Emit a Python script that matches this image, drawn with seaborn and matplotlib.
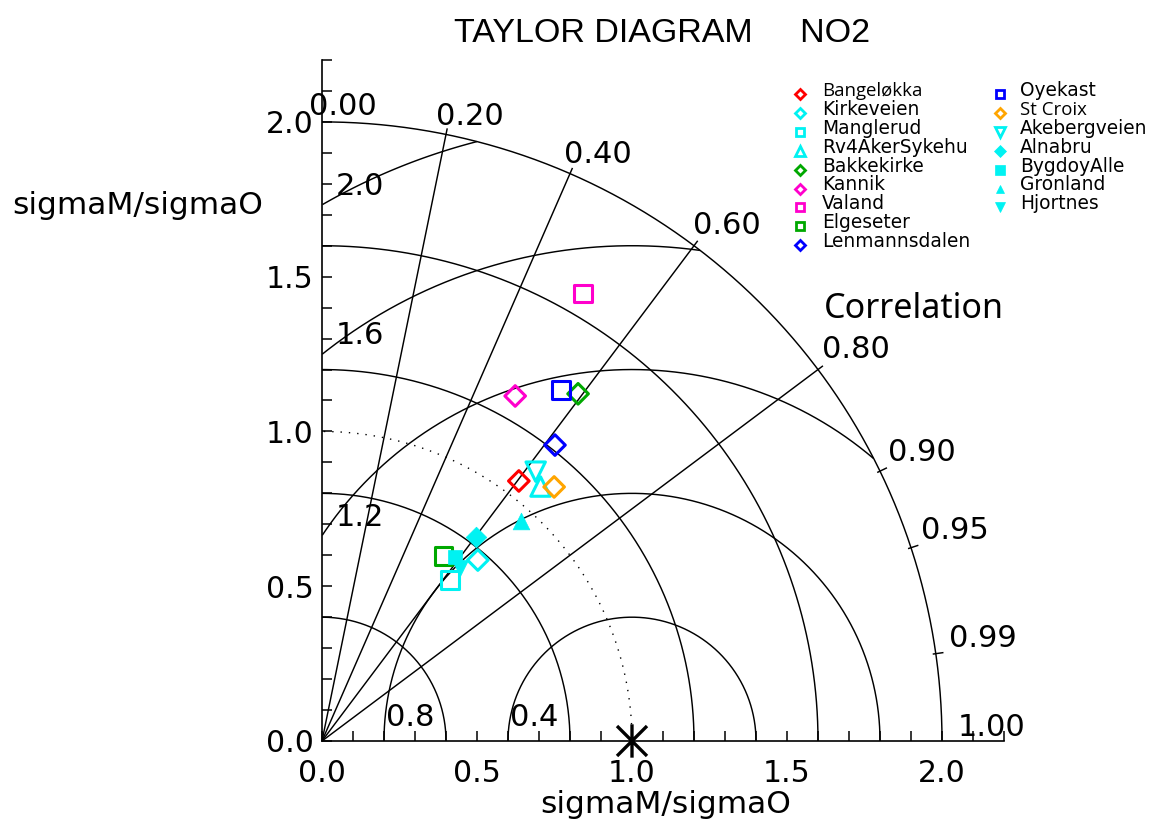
import numpy as np
import pandas as pd
import matplotlib
matplotlib.use("Agg")
import matplotlib.pyplot as plt
import matplotlib.transforms as mtransforms
from matplotlib.lines import Line2D
from matplotlib.path import Path
import seaborn as sns

# ---- station statistics: normalised std (sigmaM/sigmaO) and correlation ----
stations = ["Bangeløkka", "Kirkeveien", "Manglerud", "Rv4AkerSykehu", "Bakkekirke",
            "Kannik", "Valand", "Elgeseter", "Lenmannsdalen",
            "Oyekast", "St Croix", "Akebergveien", "Alnabru", "BygdoyAlle",
            "Gronland", "Hjortnes"]
std_ratio = [1.053, 0.771, 0.664, 1.083, 1.393,
             1.277, 1.673, 0.714, 1.216,
             1.371, 1.111, 1.110, 0.825, 0.733,
             0.957, 0.714]
correlation = [0.603, 0.652, 0.622, 0.651, 0.593,
               0.488, 0.503, 0.548, 0.618,
               0.562, 0.674, 0.621, 0.602, 0.585,
               0.670, 0.623]

# ---- symbol styling per station ----
CYAN, RED, GREEN, MAGENTA, BLUE, ORANGE = "#00F2F2", "#FF0000", "#00A800", "#FF00CC", "#0000FF", "#FFA500"
station_colors = [RED, CYAN, CYAN, CYAN, GREEN,
                  MAGENTA, MAGENTA, GREEN, BLUE,
                  BLUE, ORANGE, CYAN, CYAN, CYAN,
                  CYAN, CYAN]
station_markers = ["D", "D", "s", "^", "D",
                   "D", "s", "s", "D",
                   "s", "D", "v", "D", "s",
                   "^", "v"]
station_filled = [False, False, False, False, False,
                  False, False, False, False,
                  False, False, False, True, True,
                  True, True]

# marker size (points) by (marker, filled)
plot_ms = {("D", False): 10.5, ("s", False): 12.5, ("^", False): 14.0, ("v", False): 14.0,
           ("D", True): 10.5, ("s", True): 10.5, ("^", True): 12.0, ("v", True): 11.5}
legend_ms = {("D", False): 5.5, ("s", False): 6.0, ("^", False): 7.5, ("v", False): 7.5,
             ("D", True): 6.0, ("s", True): 7.0, ("^", True): 5.5, ("v", True): 7.0}

std_circles = [0.4, 0.8, 1.2, 1.6, 2.0]
rms_circles = [0.4, 0.8, 1.2, 1.6, 2.0]
corr_lines = [0.2, 0.4, 0.6, 0.8]
corr_ticks = [0.9, 0.95, 0.99]
corr_labels = [0.0, 0.2, 0.4, 0.6, 0.8, 0.9, 0.95, 0.99, 1.0]

R_MAX = 2.0
AX_MAX = 2.2

df = pd.DataFrame({
    "station": stations,
    "std": std_ratio,
    "corr": correlation,
})
theta = np.arccos(df["corr"].to_numpy())
df["x"] = df["std"] * np.cos(theta)
df["y"] = df["std"] * np.sin(theta)

sns.set_style("ticks")
plt.rcParams["font.family"] = ["DejaVu Sans"]
plt.rcParams.update({"text.color": "black", "axes.labelcolor": "black",
                     "xtick.color": "black", "ytick.color": "black",
                     "axes.edgecolor": "black"})

W, H = 1159, 826
fig = plt.figure(figsize=(W / 100, H / 100), dpi=100)
ax = fig.add_axes([322 / W, 85 / H, 682 / W, 681 / H])
ax.set_xlim(0, AX_MAX)
ax.set_ylim(0, AX_MAX)

LINE_KW = dict(color="black", lw=1.05, solid_capstyle="butt", zorder=2)

# standard-deviation arcs about the origin
t = np.linspace(0, np.pi / 2, 400)
for r in std_circles:
    ax.plot(r * np.cos(t), r * np.sin(t), **LINE_KW)
ax.plot(np.cos(t), np.sin(t), color="black", lw=1.0, ls=(0, (1, 5)), zorder=2)

# centred RMS-difference arcs about the reference point (1, 0)
tt = np.linspace(0, np.pi, 1200)
for rms in rms_circles:
    px = 1 + rms * np.cos(tt)
    py = rms * np.sin(tt)
    keep = (px >= 0) & (px ** 2 + py ** 2 <= R_MAX ** 2 + 1e-9)
    ax.plot(px[keep], py[keep], **LINE_KW)
    if rms < 1:
        ax.text(1 - rms + 0.005, 0.075, f"{rms:.1f}", ha="left", va="center", fontsize=22)
    else:
        ax.text(0.045, np.sqrt(rms ** 2 - 1) + 0.06, f"{rms:.1f}", ha="left", va="center",
                fontsize=22)

# correlation rays and rim ticks
for c in corr_lines:
    a = np.arccos(c)
    ax.plot([0, 2.02 * np.cos(a)], [0, 2.02 * np.sin(a)], **LINE_KW)
for c in corr_ticks:
    a = np.arccos(c)
    ax.plot([1.99 * np.cos(a), 2.025 * np.cos(a)], [1.99 * np.sin(a), 2.025 * np.sin(a)],
            **LINE_KW)
for c in corr_labels:
    a = np.arccos(c) + np.deg2rad(1.2)
    ax.text(2.05 * np.cos(a), 2.05 * np.sin(a), f"{c:.2f}", ha="left", va="center",
            fontsize=22, zorder=3)
ax.text(1.62, 1.395, "Correlation", ha="left", va="center", fontsize=24.5,
        family=["Noto Sans", "DejaVu Sans"])

# station symbols
for i, row in df.iterrows():
    key = (station_markers[i], station_filled[i])
    col = station_colors[i]
    sns.scatterplot(x=[row["x"]], y=[row["y"]], ax=ax, marker=station_markers[i],
                    s=plot_ms[key] ** 2, color=col,
                    facecolor=col if station_filled[i] else "none",
                    edgecolor=col, linewidth=0.5 if station_filled[i] else 2.2,
                    legend=False, zorder=5)

# reference point: six-armed asterisk at (1, 0)
asterisk = Path([(0, -1), (0, 1), (-0.9, -0.9), (0.9, 0.9), (-0.9, 0.9), (0.9, -0.9)],
                [Path.MOVETO, Path.LINETO, Path.MOVETO, Path.LINETO, Path.MOVETO, Path.LINETO])
sns.scatterplot(x=[1.0], y=[0.0], ax=ax, marker=asterisk, s=24 ** 2, color="black",
                facecolor="none", edgecolor="black", linewidth=2.4, legend=False,
                zorder=6, clip_on=False)

# axes frame and ticks
for side in ("top", "right"):
    ax.spines[side].set_visible(False)
for side in ("left", "bottom"):
    ax.spines[side].set_linewidth(1.2)
    ax.spines[side].set_color("black")
major = np.arange(0, 2.01, 0.5)
minor = np.arange(0, AX_MAX + 0.001, 0.1)
ax.set_xticks(major)
ax.set_yticks(major)
ax.set_xticks(minor, minor=True)
ax.set_yticks(minor, minor=True)
ax.set_xticklabels([f"{v:.1f}" for v in major])
ax.set_yticklabels([f"{v:.1f}" for v in major])
ax.tick_params(which="both", direction="in", length=7, width=1.1, color="black")
ax.tick_params(axis="x", which="major", pad=13, labelsize=21.5, labelcolor="black")
ax.tick_params(axis="y", which="major", pad=6, labelsize=21.5, labelcolor="black")
ax.set_xlabel("")
ax.set_ylabel("")

# pixel-based transform for figure annotations
px_tr = mtransforms.Affine2D().scale(1 / W, -1 / H).translate(0, 1) + fig.transFigure

fig.text(662, 42, "TAYLOR DIAGRAM     NO2", transform=px_tr, ha="center", va="baseline",
         fontsize=24.5, family=["Liberation Sans", "DejaVu Sans"])
fig.text(12, 214, "sigmaM/sigmaO", transform=px_tr, ha="left", va="baseline", fontsize=22.5)
fig.text(666, 813, "sigmaM/sigmaO", transform=px_tr, ha="center", va="baseline", fontsize=22.5)

# station key in two columns
col_x = [(800, 822), (1000, 1020)]
rows_per_col = 9
for i, name in enumerate(stations):
    ci, ri = divmod(i, rows_per_col)
    mx, tx = col_x[ci]
    base = 96 + 18.9 * ri
    key = (station_markers[i], station_filled[i])
    col = station_colors[i]
    fig.add_artist(Line2D([mx], [base - 2], transform=px_tr, ls="none",
                          marker=station_markers[i], ms=legend_ms[key],
                          mfc=col if station_filled[i] else "none", mec=col,
                          mew=0.5 if station_filled[i] else 2.0))
    fam = ["Open Sans", "DejaVu Sans"] if name in ("Bangeløkka", "St Croix") else ["DejaVu Sans"]
    fig.text(tx, base, name, transform=px_tr, ha="left", va="baseline", fontsize=13.4,
             family=fam)

fig.savefig("out.png", dpi=100)
